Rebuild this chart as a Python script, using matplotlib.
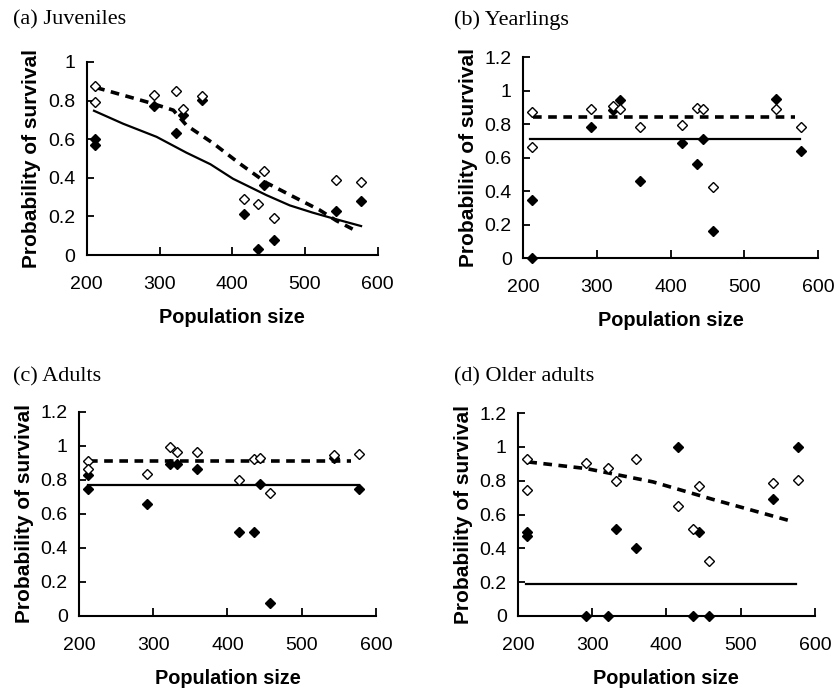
import matplotlib
matplotlib.use("Agg")
from matplotlib import pyplot as plt

# population size of each year (same for every stage)
pop_size = [212, 212, 292, 322, 332, 359, 416, 436, 444, 458, 543, 577]

# (a) juveniles
juv_open = [0.876, 0.79, 0.828, 0.848, 0.757, 0.824, 0.29, 0.262, 0.434, 0.193, 0.388, 0.376]
juv_fill = [0.603, 0.569, 0.771, 0.633, 0.724, 0.805, 0.212, 0.029, 0.362, 0.078, 0.229, 0.279]
juv_solid_x = [210, 250, 296, 337, 370, 401, 447, 479, 510, 538, 577]
juv_solid_y = [0.747, 0.68, 0.612, 0.53, 0.47, 0.395, 0.31, 0.257, 0.22, 0.19, 0.15]
juv_dash_x = [213, 291, 319, 337, 374, 410, 447, 484, 520, 543, 568]
juv_dash_y = [0.867, 0.784, 0.75, 0.672, 0.578, 0.474, 0.374, 0.302, 0.233, 0.178, 0.129]

# (b) yearlings
yea_open = [0.874, 0.663, 0.89, 0.91, 0.89, 0.786, 0.796, 0.90, 0.89, 0.428, 0.89, 0.782]
yea_fill = [0.348, 0.0, 0.786, 0.886, 0.945, 0.462, 0.687, 0.563, 0.71, 0.165, 0.951, 0.64]
yea_solid_x = [209, 576]
yea_solid_y = [0.712, 0.712]
yea_dash_x = [213, 568]
yea_dash_y = [0.842, 0.842]

# (c) adults
adu_open = [0.912, 0.861, 0.834, 0.99, 0.961, 0.961, 0.80, 0.924, 0.93, 0.724, 0.946, 0.95]
adu_fill = [0.828, 0.746, 0.658, 0.89, 0.89, 0.863, 0.491, 0.491, 0.775, 0.078, 0.93, 0.744]
adu_solid_x = [212, 577]
adu_solid_y = [0.769, 0.769]
adu_dash_x = [214, 567]
adu_dash_y = [0.912, 0.912]

# (d) older adults
old_open = [0.927, 0.744, 0.907, 0.875, 0.797, 0.93, 0.651, 0.515, 0.767, 0.327, 0.787, 0.807]
old_fill = [0.494, 0.474, 0.0, 0.0, 0.517, 0.40, 1.0, 0.0, 0.494, 0.0, 0.694, 1.0]
old_solid_x = [211, 575]
old_solid_y = [0.189, 0.189]
old_dash_x = [214, 292, 382, 463, 568]
old_dash_y = [0.911, 0.872, 0.793, 0.689, 0.561]

panels = [
    ("(a) Juveniles", [0.104, 0.6315, 0.349, 0.279], 1.0, [0, 0.2, 0.4, 0.6, 0.8, 1],
     juv_open, juv_fill, juv_solid_x, juv_solid_y, juv_dash_x, juv_dash_y, (0.016, 0.964)),
    ("(b) Yearlings", [0.627, 0.627, 0.354, 0.290], 1.2, [0, 0.2, 0.4, 0.6, 0.8, 1, 1.2],
     yea_open, yea_fill, yea_solid_x, yea_solid_y, yea_dash_x, yea_dash_y, (0.544, 0.964)),
    ("(c) Adults", [0.0947, 0.110, 0.356, 0.295], 1.2, [0, 0.2, 0.4, 0.6, 0.8, 1, 1.2],
     adu_open, adu_fill, adu_solid_x, adu_solid_y, adu_dash_x, adu_dash_y, (0.016, 0.448)),
    ("(d) Older adults", [0.621, 0.110, 0.356, 0.293], 1.2, [0, 0.2, 0.4, 0.6, 0.8, 1, 1.2],
     old_open, old_fill, old_solid_x, old_solid_y, old_dash_x, old_dash_y, (0.544, 0.448)),
]

fig = plt.figure(figsize=(8.34, 6.92), dpi=100)

for (title, rect, ytop, yticks, y_open, y_fill, sx, sy, dx, dy, tpos) in panels:
    ax = fig.add_axes(rect)
    ax.plot(sx, sy, color='black', linewidth=1.6, zorder=2)
    ax.plot(dx, dy, color='black', linewidth=2.6, dashes=(2.4, 1.8), zorder=2)
    ax.plot(pop_size, y_fill, linestyle='none', marker='D', markersize=5,
            markerfacecolor='black', markeredgecolor='black', clip_on=False, zorder=3)
    ax.plot(pop_size, y_open, linestyle='none', marker='D', markersize=4.8,
            markerfacecolor='white', markeredgecolor='black', markeredgewidth=1.0,
            clip_on=False, zorder=4)

    ax.set_xlim(200, 600)
    ax.set_ylim(0, ytop)
    ax.set_xticks([200, 300, 400, 500, 600])
    ax.set_yticks(yticks)
    ax.set_yticklabels(['%g' % t for t in yticks])
    for side in ['top', 'right']:
        ax.spines[side].set_visible(False)
    for side in ['left', 'bottom']:
        ax.spines[side].set_linewidth(1.5)
    ax.tick_params(axis='x', direction='in', length=5.5, width=1.3,
                   labelsize=14, pad=15)
    ax.tick_params(axis='y', direction='in', length=5, width=1.3,
                   labelsize=14, pad=8)
    for lab in ax.get_xticklabels() + ax.get_yticklabels():
        lab.set_family('Liberation Sans')

    ax.set_xlabel('Population size', fontsize=14.3, fontweight='bold',
                  family='Liberation Sans', labelpad=11)
    ax.set_ylabel('Probability of survival', fontsize=15, fontweight='bold',
                  family='Liberation Sans', labelpad=5)
    fig.text(tpos[0], tpos[1], title, fontsize=16, family='Liberation Serif',
             ha='left', va='baseline')

fig.savefig('out.png', dpi=100)
